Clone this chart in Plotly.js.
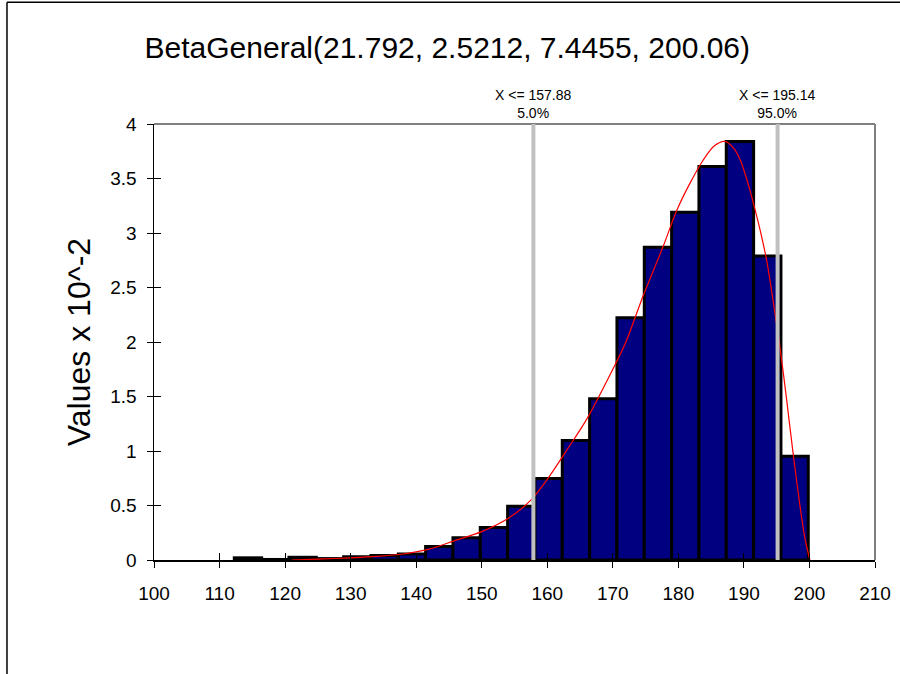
<!DOCTYPE html>
<html><head><meta charset="utf-8">
<script src="https://cdn.plot.ly/plotly-3.0.1.min.js"></script>
<style>html,body{margin:0;padding:0;background:#fff;} #chart{width:900px;height:674px;}</style>
</head><body><div id="chart"></div>
<script>
// Histogram bin edges and heights (values x 10^-2)
const binEdges = [112.25,116.42,120.59,124.76,128.93,133.10,137.27,141.44,145.61,149.78,153.95,158.12,162.29,166.46,170.63,174.80,178.97,183.14,187.31,191.48,195.65,199.82];
const binValues = [0.020,0.005,0.025,0.013,0.030,0.042,0.055,0.124,0.204,0.298,0.494,0.748,1.096,1.479,2.222,2.870,3.190,3.610,3.840,2.790,0.952];

// Fitted density curve
const curveX = [121,125,130,134,138,142,146,150,154,157.5,160,163,166,170,172,174.6,177.7,179.7,181.8,183.8,185.5,187.1,188.4,189.5,190.5,191.5,192.5,193.5,194.5,195.5,196.5,197.5,198.5,199.3,200.06];
const curveY = [0,0.008,0.02,0.033,0.055,0.1,0.18,0.26,0.38,0.55,0.74,1.01,1.29,1.75,2.0,2.42,2.88,3.20,3.46,3.67,3.80,3.84,3.78,3.66,3.48,3.26,3.02,2.74,2.36,1.95,1.48,0.98,0.52,0.2,0];

// Percentile markers
const pctX = [157.88, 195.14];
const pctLabels = ['5.0%', '95.0%'];

const xTicks = [100,110,120,130,140,150,160,170,180,190,200,210];
const yTicks = [0,0.5,1,1.5,2,2.5,3,3.5,4];
const yTickText = ['0','0.5','1','1.5','2','2.5','3','3.5','4'];

const titleText = 'BetaGeneral(21.792, 2.5212, 7.4455, 200.06)';
const yTitle = 'Values x 10^-2';

const centers = binValues.map((v,i)=> (binEdges[i]+binEdges[i+1])/2);
const widths = binValues.map((v,i)=> binEdges[i+1]-binEdges[i]);

const FONT = 'Liberation Sans, Arial, sans-serif';

const traces = [
  {type:'bar', x:centers, y:binValues, width:widths,
   marker:{color:'#000080', line:{color:'#000000', width:3}},
   hoverinfo:'x+y', showlegend:false},
  {type:'scatter', mode:'lines', x:curveX, y:curveY,
   line:{color:'#ff0000', width:1.2, shape:'spline', smoothing:0.8}, showlegend:false},
  {type:'scatter', mode:'markers', x:[], y:[], xaxis:'x2', yaxis:'y2', showlegend:false, hoverinfo:'skip'}
];

const shapes = [
  // plot frame top and right (gray)
  {type:'line', xref:'paper', yref:'paper', x0:0, x1:1, y0:1, y1:1, line:{color:'#808080', width:2}},
  {type:'line', xref:'paper', yref:'paper', x0:1, x1:1, y0:0, y1:1, line:{color:'#808080', width:2}},
  // outer chart frame (left and top)
  {type:'line', xref:'paper', yref:'paper', x0:-0.2039, x1:-0.2039, y0:-0.27, y1:1.279, line:{color:'#000000', width:1.5}},
  {type:'line', xref:'paper', yref:'paper', x0:-0.2039, x1:1.05, y0:1.279, y1:1.279, line:{color:'#000000', width:1.5}}
];
const annotations = [];
pctX.forEach((px,i)=>{
  shapes.push({type:'line', xref:'x', yref:'y', x0:px, x1:px, y0:0, y1:4, layer:'above',
    line:{color:'#c0c0c0', width:4}});
  annotations.push({xref:'x', yref:'paper', x:px, y:1, yanchor:'bottom', yshift:1, showarrow:false,
    text:'X &lt;= ' + px.toFixed(2) + '<br>' + pctLabels[i], align:'center',
    font:{family:FONT, size:14, color:'#000'}});
});

const layout = {
  width:900, height:674,
  paper_bgcolor:'#ffffff', plot_bgcolor:'#ffffff',
  margin:{l:154, r:25, t:124, b:114},
  font:{family:FONT, color:'#000'},
  title:{text:titleText, x:0.497, xref:'container', y:0.93, yref:'container', yanchor:'middle',
    font:{family:FONT, size:30, color:'#000'}},
  bargap:0,
  xaxis:{range:[100,210], tickvals:xTicks, ticktext:xTicks.map(String), ticks:'outside', ticklen:6, tickcolor:'#000',
    showline:true, linecolor:'#000', linewidth:1.5, showgrid:false, zeroline:false,
    tickfont:{family:FONT, size:19, color:'#000'}, ticklabelstandoff:10},
  yaxis:{range:[0,4], tickvals:yTicks, ticktext:yTickText, ticks:'outside', ticklen:6, tickcolor:'#000',
    showline:true, linecolor:'#000', linewidth:1.5, showgrid:false, zeroline:false,
    tickfont:{family:FONT, size:19, color:'#000'}, ticklabelstandoff:6,
    title:{text:yTitle, font:{family:FONT, size:32, color:'#000'}, standoff:10}},
  xaxis2:{overlaying:'x', anchor:'y2', range:[100,210], tickvals:xTicks, ticks:'inside', ticklen:7, tickcolor:'#000',
    showticklabels:false, showgrid:false, zeroline:false, showline:false},
  yaxis2:{overlaying:'y', anchor:'x2', range:[0,4], tickvals:yTicks, ticks:'inside', ticklen:7, tickcolor:'#000',
    showticklabels:false, showgrid:false, zeroline:false, showline:false},
  shapes:shapes,
  annotations:annotations
};

Plotly.newPlot('chart', traces, layout, {displayModeBar:false, staticPlot:true});
</script>
</body></html>
